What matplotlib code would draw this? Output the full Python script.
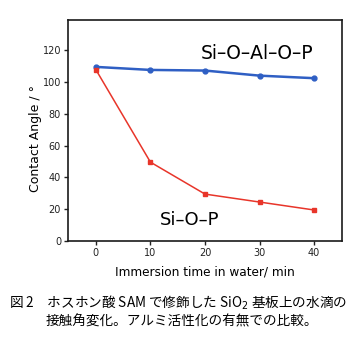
import matplotlib
matplotlib.use("Agg")
import matplotlib.pyplot as plt

plt.rcParams['font.family'] = ['DejaVu Sans']

time_min = [0, 10, 20, 30, 40]
al_angle = [109.5, 107.6, 107.2, 104.0, 102.4]
p_angle = [107.8, 49.6, 29.5, 24.5, 19.5]
yticks = [0, 20, 40, 60, 80, 100, 120]
xticks = [0, 10, 20, 30, 40]
label_al = "Si–O–Al–O–P"
label_p = "Si–O–P"
xlabel = "Immersion time in water/ min"
ylabel = "Contact Angle / °"
caption1 = "図 2　ホスホン酸 SAM で修飾した SiO$_2$ 基板上の水滴の"
caption2 = "接触角変化。アルミ活性化の有無での比較。"

fig = plt.figure(figsize=(3.54, 3.54), dpi=100)
ax = fig.add_axes([68/354, 1-241/354, (342-68)/354, (241-20)/354])

ax.plot(time_min, al_angle, color='#2f5fc4', lw=1.8, marker='o', ms=3.5, zorder=3)
ax.plot(time_min, p_angle, color='#e8352a', lw=1.1, marker='s', ms=3, zorder=3)

ax.set_xlim(-5.1, 45.1)
ax.set_ylim(0, 139)
ax.set_xticks(xticks)
ax.set_yticks(yticks)
ax.tick_params(labelsize=7, length=3, width=1, pad=2, colors='#222222')
for s in ax.spines.values():
    s.set_linewidth(1.2)
    s.set_color('#1a1a1a')

ax.text(0.69, 0.85, label_al, transform=ax.transAxes, ha='center', va='center', fontsize=13.5)
ax.text(0.445, 0.095, label_p, transform=ax.transAxes, ha='center', va='center', fontsize=13)

fig.text(205/354, 1-272/354, xlabel, ha='center', va='center', fontsize=8.7)
fig.text(35/354, 1-139/354, ylabel, ha='center', va='center', fontsize=9, rotation=90)

fig.text(9/354, 1-303/354, caption1, ha='left', va='center', fontsize=9.8,
         family=['Noto Sans CJK JP', 'DejaVu Sans'])
fig.text(46/354, 1-321/354, caption2, ha='left', va='center', fontsize=9.8,
         family=['Noto Sans CJK JP', 'DejaVu Sans'])

fig.savefig('out.png', dpi=100)
